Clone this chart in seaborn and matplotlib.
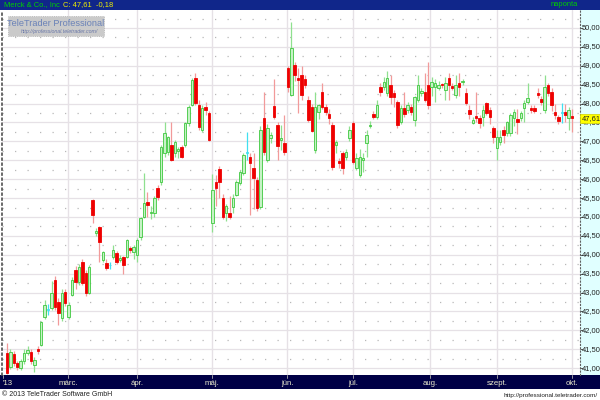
import numpy as np
import pandas as pd
import matplotlib
matplotlib.use("Agg")
import matplotlib.pyplot as plt
from matplotlib.patches import Rectangle
import seaborn as sns

# napi arfolyamok (Merck & Co., 2013 febr. - okt.), a kepről leolvasva
opens = [41.40, 41.03, 41.38, 41.14, 41.00, 41.19, 41.40, 41.43, 41.08, 41.50,
         41.61, 42.35, 42.55, 42.60, 43.33, 42.75, 42.33, 43.02, 42.35, 42.94,
         43.60, 43.28, 43.81, 43.52, 42.99, 45.45, 44.58, 44.73, 43.86, 43.78,
         43.72, 43.94, 44.05, 43.87, 43.94, 43.94, 44.17, 44.07, 44.00, 44.47,
         45.00, 45.40, 45.10, 45.11, 45.77, 45.93, 46.69, 46.72, 46.90, 46.69,
         46.74, 46.85, 46.90, 47.49, 47.96, 48.68, 47.96, 47.30, 47.91, 47.75,
         44.84, 45.93, 46.27, 45.50, 45.11, 45.11, 45.26, 45.58, 45.90, 46.16,
         46.70, 46.59, 46.30, 45.98, 45.26, 47.62, 46.51, 47.10, 47.94, 47.43,
         47.05, 46.96, 48.94, 48.23, 49.02, 48.68, 48.76, 48.65, 48.10, 47.91,
         46.77, 47.78, 48.30, 47.91, 47.72, 47.43, 46.90, 46.48, 46.69, 46.59,
         47.09, 47.49, 46.30, 46.11, 46.50, 46.96, 47.40, 47.72, 47.65, 48.44,
         48.44, 48.28, 48.49, 48.28, 48.04, 47.51, 47.88, 47.83, 47.91, 47.57,
         48.10, 48.28, 48.31, 48.49, 48.44, 48.44, 48.41, 48.52, 48.36, 48.68,
         48.46, 48.23, 48.54, 48.56, 48.28, 47.83, 47.49, 47.66, 47.62, 47.65,
         48.02, 47.83, 47.35, 46.83, 46.98, 47.30, 47.22, 47.22, 47.62, 47.59,
         47.62, 47.88, 48.04, 47.88, 47.88, 48.28, 48.12, 47.83, 48.49, 48.31,
         47.78, 47.64, 47.75, 47.78, 47.62, 47.66]
closes = [40.87, 41.43, 41.14, 41.03, 41.19, 41.40, 41.48, 41.19, 41.22, 41.46,
          42.22, 42.67, 42.55, 43.00, 42.62, 42.46, 43.00, 42.72, 42.67, 43.33,
          43.28, 43.68, 43.25, 42.99, 43.68, 45.05, 44.63, 44.34, 44.07, 43.65,
          43.72, 44.13, 43.81, 43.92, 43.73, 44.39, 44.13, 44.20, 44.39, 44.97,
          45.37, 45.32, 45.14, 45.50, 45.53, 46.85, 47.22, 47.12, 46.51, 46.98,
          46.79, 46.59, 47.49, 47.91, 48.62, 48.02, 47.38, 47.88, 47.83, 47.04,
          45.71, 45.77, 45.93, 45.00, 45.29, 45.00, 45.50, 45.93, 46.19, 46.64,
          46.70, 46.43, 46.03, 45.24, 47.30, 46.72, 47.35, 47.17, 47.65, 46.88,
          47.10, 46.72, 48.44, 49.47, 48.76, 48.62, 48.23, 48.49, 47.57, 47.28,
          47.91, 47.96, 47.91, 47.78, 47.62, 46.32, 46.98, 46.43, 46.30, 46.72,
          47.30, 46.46, 46.56, 46.59, 46.56, 47.17, 47.43, 47.65, 47.96, 48.31,
          48.57, 48.68, 48.17, 48.17, 47.43, 47.88, 47.72, 47.96, 47.78, 48.17,
          48.49, 48.32, 48.10, 47.96, 48.57, 48.54, 48.49, 48.48, 48.54, 48.49,
          48.42, 48.49, 48.44, 48.60, 48.02, 47.72, 47.57, 47.62, 47.49, 47.83,
          47.75, 47.65, 47.12, 47.12, 47.12, 47.17, 47.51, 47.70, 47.78, 47.51,
          47.75, 48.02, 48.15, 47.83, 47.80, 48.23, 48.04, 48.44, 48.28, 47.96,
          47.70, 47.54, 47.75, 47.70, 47.83, 47.61]
highs = [41.67, 41.50, 41.45, 41.20, 41.25, 41.50, 41.60, 41.50, 41.30, 41.58,
         42.25, 42.80, 42.70, 43.30, 43.45, 42.85, 43.10, 43.10, 42.75, 43.40,
         43.70, 43.75, 43.90, 43.60, 43.72, 45.47, 44.70, 44.75, 44.10, 43.90,
         43.82, 44.25, 44.10, 44.00, 43.98, 44.42, 44.22, 44.25, 44.45, 45.00,
         46.16, 45.65, 45.30, 45.55, 45.85, 46.90, 47.50, 47.15, 47.50, 47.05,
         46.85, 46.90, 47.52, 47.95, 48.68, 48.80, 48.10, 47.95, 48.05, 47.80,
         46.14, 46.10, 46.35, 45.60, 45.35, 45.55, 45.60, 45.98, 46.25, 46.70,
         47.25, 46.70, 46.70, 46.05, 47.40, 48.30, 47.45, 47.25, 48.65, 47.50,
         47.43, 47.70, 49.00, 50.16, 49.10, 48.95, 49.00, 48.75, 48.20, 48.00,
         48.30, 48.00, 48.54, 48.00, 47.85, 47.50, 47.05, 46.55, 46.75, 46.80,
         47.40, 47.55, 46.70, 46.80, 46.70, 47.30, 47.55, 47.80, 48.10, 48.55,
         48.70, 48.85, 48.75, 48.35, 48.10, 47.95, 48.30, 48.05, 48.00, 48.20,
         48.75, 48.40, 48.80, 49.10, 48.70, 48.65, 48.60, 48.55, 48.70, 48.80,
         48.55, 48.75, 48.80, 48.65, 48.40, 47.95, 47.65, 48.30, 47.70, 47.95,
         48.05, 47.90, 47.40, 47.30, 47.30, 47.40, 47.55, 47.75, 47.85, 47.85,
         47.80, 48.10, 48.54, 47.95, 47.95, 48.40, 48.20, 48.76, 48.55, 48.40,
         48.00, 47.70, 48.02, 48.00, 47.90, 47.85]
lows = [40.85, 40.98, 41.05, 40.95, 40.95, 41.12, 41.35, 41.10, 40.90, 41.38,
        41.58, 42.30, 42.40, 42.55, 42.55, 42.15, 42.25, 42.65, 42.30, 42.90,
        43.10, 43.20, 43.20, 42.90, 42.95, 44.85, 44.50, 43.80, 43.80, 43.60,
        43.62, 43.90, 43.75, 43.82, 43.50, 43.92, 44.05, 43.90, 43.80, 44.40,
        44.98, 45.00, 44.95, 45.00, 45.45, 45.85, 46.60, 46.65, 46.48, 46.60,
        46.55, 46.55, 46.85, 47.40, 47.93, 47.95, 47.30, 47.25, 47.70, 47.00,
        44.60, 45.30, 45.50, 44.95, 44.90, 44.95, 45.10, 45.55, 45.85, 46.10,
        46.50, 45.05, 45.20, 45.15, 45.20, 46.65, 46.45, 46.95, 47.60, 46.50,
        46.77, 46.65, 48.30, 48.20, 48.60, 47.75, 48.10, 48.40, 47.50, 47.25,
        46.70, 47.60, 47.85, 47.70, 47.45, 46.25, 46.70, 46.30, 46.15, 46.50,
        47.00, 46.40, 46.25, 46.05, 46.20, 46.60, 47.35, 47.60, 47.60, 48.20,
        48.35, 48.20, 48.00, 47.90, 47.35, 47.45, 47.65, 47.75, 47.70, 47.40,
        48.05, 48.20, 48.05, 47.85, 48.20, 48.04, 48.35, 48.40, 48.10, 48.10,
        48.35, 48.15, 48.20, 48.50, 47.95, 47.60, 47.45, 47.50, 47.35, 47.40,
        47.70, 47.45, 46.95, 46.50, 46.90, 46.95, 47.15, 47.15, 47.40, 47.20,
        47.55, 47.50, 48.00, 47.75, 47.75, 48.15, 47.95, 47.75, 48.20, 47.80,
        47.60, 47.45, 47.49, 47.50, 47.30, 47.25]

month_labels = ["'13", "márc.", "ápr.", "máj.", "jún.", "júl.", "aug.", "szept.", "okt."]
month_pos = [-1.2, 17.8, 38.0, 59.9, 81.8, 101.0, 123.5, 143.1, 165.0]
price_ticks = np.arange(41.0, 50.01, 0.5)
last_close = 47.61

df = pd.DataFrame({"open": opens, "close": closes, "high": highs, "low": lows})
df["idx"] = np.arange(len(df))
df["dir"] = np.where(df["close"] > df["open"], "up",
                     np.where(df["close"] < df["open"], "down", "flat"))

sns.set_style("white")
plt.rcParams["font.family"] = ["Liberation Sans", "DejaVu Sans"]

W, H = 600, 400
XLIM = (-1.46, 167.3)
YLIM = (40.82, 50.476)
fig = plt.figure(figsize=(6, 4), dpi=100)
fig.patch.set_facecolor("white")

# felső és alsó sáv
fig.patches.append(Rectangle((0, 1 - 10 / H), 1, 10 / H, transform=fig.transFigure,
                             facecolor="#10268a", edgecolor="none", zorder=-5))
fig.patches.append(Rectangle((0, 11 / H), 1, 14 / H, transform=fig.transFigure,
                             facecolor="#000046", edgecolor="none", zorder=-5))

ax = fig.add_axes([2 / W, 25 / H, 578 / W, 365 / H])
ax.set_facecolor("white")
ax.set_xlim(*XLIM)
ax.set_ylim(*YLIM)

# racs
for p in price_ticks:
    ax.axhline(p, color="#e6e1e6", lw=0.9, zorder=1)
    ax.axhline(p + 0.25, color="#b8b8b8", lw=0.9, ls=(0, (1, 9)), zorder=1)
ax.axhline(40.75, color="#b8b8b8", lw=0.9, ls=(0, (1, 9)), zorder=1)
for m in month_pos[1:]:
    ax.axvline(m, color="#e6e1e6", lw=1.0, zorder=1)

wick_col = {"up": "#8fe08f", "down": "#f29a9a", "flat": "#40e0f0"}
face_col = {"up": "#c6f2c6", "down": "#ee0000", "flat": "#40e0f0"}
edge_col = {"up": "#3ec83e", "down": "#ee0000", "flat": "#40e0f0"}

ax.vlines(df["idx"], df["low"], df["high"], colors=df["dir"].map(wick_col), lw=0.9, zorder=2)
body_lo = df[["open", "close"]].min(axis=1)
body_h = (df["close"] - df["open"]).abs().clip(lower=0.02)
ax.bar(df["idx"], body_h, bottom=body_lo, width=0.72,
       color=df["dir"].map(face_col), edgecolor=df["dir"].map(edge_col), linewidth=0.6, zorder=3)

ax.set_xticks([])
ax.set_yticks([])
for s in ["top", "right", "bottom"]:
    ax.spines[s].set_visible(False)
ax.spines["left"].set_color("#505050")
ax.spines["left"].set_linestyle((0, (1, 2)))
ax.spines["left"].set_linewidth(1.2)

# vizjel
ax.add_patch(Rectangle((6 / 578, 1 - 26 / 365), 96 / 578, 20 / 365, transform=ax.transAxes,
                       facecolor="#cacaca", edgecolor="#b0b0b0", lw=0.6, ls=":", zorder=4))
ax.text(54 / 578, 1 - 13 / 365, "TeleTrader Professional", transform=ax.transAxes,
        ha="center", va="center", fontsize=6.6, color="#6a82b8", zorder=5)
ax.text(58 / 578, 1 - 21.5 / 365, "http://professional.teletrader.com/", transform=ax.transAxes,
        ha="center", va="center", fontsize=3.8, color="#6a78a8", style="italic", zorder=5)

# jobb oldali arskala
ax_r = fig.add_axes([580 / W, 25 / H, 20 / W, 365 / H])
ax_r.set_facecolor("#e0ffff")
ax_r.set_xlim(0, 1)
ax_r.set_ylim(*YLIM)
ax_r.set_xticks([])
ax_r.set_yticks(price_ticks)
ax_r.tick_params(axis="y", direction="in", length=2, width=0.6, color="#404040",
                 labelleft=False, labelright=False, left=True, right=False)
for s in ["top", "right", "bottom"]:
    ax_r.spines[s].set_visible(False)
ax_r.spines["left"].set_color("#606060")
ax_r.spines["left"].set_linestyle((0, (1, 2)))
for p in price_ticks:
    ax_r.text(0.08, p, f"{p:.2f}".replace(".", ","), ha="left", va="center",
              fontsize=5.4, color="#202020")
ax_r.text(0.08, last_close, f"{last_close:.2f}".replace(".", ","),
          ha="left", va="center", fontsize=5.4, color="#202020", zorder=6,
          bbox=dict(boxstyle="square,pad=0.15", facecolor="#ffff00", edgecolor="#d0d000", lw=0.5))

# honap cimkek az also savban
ax_b = fig.add_axes([2 / W, 11 / H, 578 / W, 14 / H])
ax_b.set_facecolor("none")
ax_b.set_xlim(*XLIM)
ax_b.set_ylim(0, 1)
ax_b.set_xticks([])
ax_b.set_yticks([])
for s in ax_b.spines.values():
    s.set_visible(False)
for lab, m in zip(month_labels, month_pos):
    ax_b.text(m, 0.42, lab, ha="left" if lab == "'13" else "center", va="center",
              fontsize=5.6, color="#ececd0")
    ax_b.plot([m, m], [0.82, 1.0], color="#b0b0b0", lw=0.6)

# fejlec es lablec
t1 = fig.text(4 / W, 1 - 5 / H, "Merck & Co., Inc", color="#00d000", fontsize=5.4, va="center", ha="left")
fig.canvas.draw()
x_end = t1.get_window_extent().x1
fig.text(x_end / W + 3 / W, 1 - 5 / H, "C: 47,61  -0,18", color="#f0f000", fontsize=5.4,
         va="center", ha="left")
fig.text(578 / W, 1 - 5 / H, "naponta", color="#00d000", fontsize=5.4, va="center", ha="right")
fig.text(2 / W, 5 / H, "© 2013 TeleTrader Software GmbH", color="#202020", fontsize=5, va="center", ha="left")
fig.text(598 / W, 5 / H, "http://professional.teletrader.com/", color="#202020", fontsize=4.6,
         va="center", ha="right")

fig.savefig("out.png", dpi=100)
